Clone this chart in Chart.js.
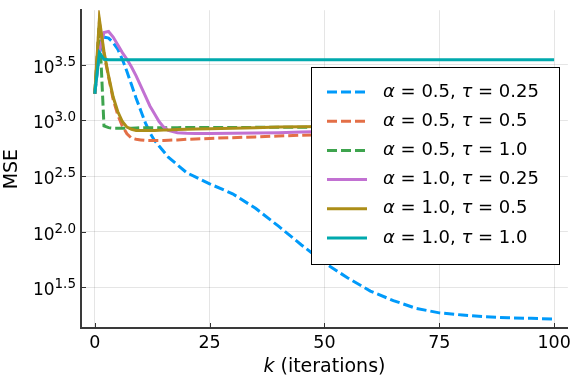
<!DOCTYPE html>
<html>
<head>
<meta charset="utf-8">
<script src="https://cdn.jsdelivr.net/npm/chart.js@4.4.1/dist/chart.umd.min.js"></script>
<style>
  html, body { margin: 0; padding: 0; background: #fff; }
</style>
</head>
<body>
<canvas id="myChart" width="576" height="384"></canvas>
<script>
// iteration index k
const iterations = [0, 1, 2, 3, 4, 5, 6, 7, 8, 9, 10, 11, 12, 13, 14, 15, 16, 18, 20, 22,
  25, 30, 35, 40, 45, 50, 55, 60, 65, 70, 75, 80, 85, 90, 95, 100]

// MSE per run
const mseA05T025 = [1738, 3981, 5623, 5495, 5012, 4365, 3548, 2754, 2089, 1585,
  1230, 955, 776, 661, 589, 525, 468, 398, 339, 309,
  269, 219, 162, 112, 75.9, 52.5, 38.5, 29.2, 24.0, 20.4,
  18.6, 17.8, 17.2, 16.8, 16.6, 16.4]
const mseA05T05 = [1738, 7586, 3981, 2455, 1549, 1122, 891, 759, 692, 676,
  668, 661, 661, 661, 661, 661, 664, 668, 676, 681,
  689, 700, 711, 724, 736, 746, 755, 762, 769, 776,
  782, 787, 791, 794, 798, 802]
const mseA05T1 = [1738, 7244, 891, 861, 851, 851, 851, 851, 851, 855,
  859, 861, 861, 861, 861, 861, 861, 861, 862, 862,
  863, 864, 866, 868, 870, 871, 873, 874, 876, 877,
  878, 879, 880, 881, 881, 881]
const mseA1T025 = [1738, 4169, 6166, 6310, 5623, 4786, 4074, 3548, 3020, 2512,
  2042, 1660, 1349, 1148, 977, 871, 813, 776, 767, 764,
  762, 766, 771, 776, 785, 794, 800, 805, 811, 817,
  820, 824, 828, 832, 834, 836]
const mseA1T05 = [1738, 8128, 4169, 2512, 1622, 1202, 977, 871, 832, 813,
  813, 813, 813, 813, 817, 818, 822, 828, 832, 836,
  841, 851, 861, 871, 877, 883, 887, 891, 893, 895,
  897, 899, 902, 902, 904, 904]
const mseA1T1 = [1738, 4074, 3548, 3508, 3508, 3508, 3508, 3508, 3508, 3508,
  3508, 3508, 3508, 3508, 3508, 3508, 3508, 3508, 3508, 3508,
  3508, 3508, 3508, 3508, 3508, 3508, 3508, 3508, 3508, 3508,
  3508, 3508, 3508, 3508, 3508, 3508]

const alphas = ['0.5', '0.5', '0.5', '1.0', '1.0', '1.0']
const taus = ['0.25', '0.5', '1.0', '0.25', '0.5', '1.0']
const xTicks = [0, 25, 50, 75, 100]
const yTickExponents = ['1.5', '2.0', '2.5', '3.0', '3.5']

const series = [mseA05T025, mseA05T05, mseA05T1, mseA1T025, mseA1T05, mseA1T1]
const colors = ['#009AFA', '#E36F47', '#3EA44E', '#C271D2', '#AC8E18', '#00A9AD']
const FONT = '"DejaVu Sans", sans-serif'

const datasets = series.map((vals, i) => ({
  label: 'α = ' + alphas[i] + ', τ = ' + taus[i],
  data: iterations.map((k, j) => ({ x: k, y: vals[j] })),
  borderColor: colors[i],
  backgroundColor: colors[i],
  borderWidth: 3,
  borderDash: i < 3 ? [10, 4] : [],
  pointRadius: 0,
  tension: 0,
  fill: false,
  order: 6 - i, // later runs on top, like the original
}))

// greek letters in italic, rest upright
function drawMathText(ctx, text, x, y, size) {
  let cx = x
  text.split(/([ατ])/).forEach((part) => {
    if (!part) return
    const greek = part === 'α' || part === 'τ'
    ctx.font = (greek ? 'italic ' : '') + size + 'px ' + FONT
    ctx.fillText(part, cx, y)
    cx += ctx.measureText(part).width
  })
}

const decorations = {
  id: 'decorations',
  afterDraw(chart) {
    const { ctx, chartArea: a } = chart
    const xs = chart.scales.x
    const ys = chart.scales.y
    ctx.save()

    // small inward tick marks
    ctx.strokeStyle = '#333'
    ctx.lineWidth = 1
    ctx.setLineDash([])
    xTicks.forEach((v) => {
      const px = Math.round(xs.getPixelForValue(v)) + 0.5
      ctx.beginPath()
      ctx.moveTo(px, a.bottom)
      ctx.lineTo(px, a.bottom - 5)
      ctx.stroke()
    })
    yTickExponents.forEach((e) => {
      const py = Math.round(ys.getPixelForValue(Math.pow(10, parseFloat(e)))) + 0.5
      ctx.beginPath()
      ctx.moveTo(a.left, py)
      ctx.lineTo(a.left + 5, py)
      ctx.stroke()
    })

    // y tick labels 10^e
    ctx.fillStyle = '#000'
    ctx.textAlign = 'left'
    ctx.textBaseline = 'alphabetic'
    yTickExponents.forEach((e) => {
      const py = ys.getPixelForValue(Math.pow(10, parseFloat(e)))
      ctx.font = '13.5px ' + FONT
      const supW = ctx.measureText(e).width
      ctx.font = '17px ' + FONT
      const baseW = ctx.measureText('10').width
      const right = a.left - 5
      ctx.fillText('10', right - supW - baseW, py + 8)
      ctx.font = '13.5px ' + FONT
      ctx.fillText(e, right - supW, py + 1)
    })

    // axis titles
    ctx.textBaseline = 'middle'
    ctx.textAlign = 'left'
    ctx.font = 'italic 19px ' + FONT
    const kW = ctx.measureText('k').width
    ctx.font = '19px ' + FONT
    const restW = ctx.measureText(' (iterations)').width
    const cx = (a.left + a.right) / 2
    ctx.font = 'italic 19px ' + FONT
    ctx.fillText('k', cx - (kW + restW) / 2, 367)
    ctx.font = '19px ' + FONT
    ctx.fillText(' (iterations)', cx - (kW + restW) / 2 + kW, 367)

    ctx.save()
    ctx.translate(12, (a.top + a.bottom) / 2)
    ctx.rotate(-Math.PI / 2)
    ctx.textAlign = 'center'
    ctx.fillText('MSE', 0, 0)
    ctx.restore()

    // legend box
    const bx = 311.5, by = 67.5, bw = 248, bh = 197
    ctx.fillStyle = '#fff'
    ctx.fillRect(bx, by, bw, bh)
    ctx.strokeStyle = '#000'
    ctx.lineWidth = 1
    ctx.strokeRect(bx, by, bw, bh)
    chart.data.datasets.forEach((ds, i) => {
      const ly = 92 + i * 29.2
      ctx.strokeStyle = ds.borderColor
      ctx.lineWidth = 3
      ctx.setLineDash(ds.borderDash)
      ctx.beginPath()
      ctx.moveTo(327, ly)
      ctx.lineTo(367, ly)
      ctx.stroke()
      ctx.setLineDash([])
      ctx.fillStyle = '#000'
      ctx.textAlign = 'left'
      ctx.textBaseline = 'middle'
      drawMathText(ctx, ds.label, 383, ly, 18)
    })
    ctx.restore()
  },
}

const config = {
  type: 'line',
  data: { datasets: datasets },
  options: {
    responsive: false,
    animation: false,
    devicePixelRatio: 1,
    layout: { padding: { left: 0, right: 7, top: 3, bottom: 0 } },
    plugins: {
      legend: { display: false },
      tooltip: { enabled: false },
    },
    scales: {
      x: {
        type: 'linear',
        min: -3,
        max: 103,
        afterBuildTicks: (scale) => {
          scale.ticks = xTicks.map((v) => ({ value: v }))
        },
        afterFit: (scale) => {
          scale.height = 56
        },
        grid: { color: 'rgba(0,0,0,0.1)', lineWidth: 1, drawTicks: false },
        border: { display: true, color: '#3a3a3a', width: 2 },
        ticks: {
          color: '#000',
          padding: 5,
          maxRotation: 0,
          font: { family: 'DejaVu Sans', size: 17.5 },
        },
      },
      y: {
        type: 'logarithmic',
        min: 13.6,
        max: 9795,
        afterBuildTicks: (scale) => {
          scale.ticks = yTickExponents.map((e) => ({ value: Math.pow(10, parseFloat(e)) }))
        },
        afterFit: (scale) => {
          scale.width = 81
        },
        grid: { color: 'rgba(0,0,0,0.1)', lineWidth: 1, drawTicks: false },
        border: { display: true, color: '#3a3a3a', width: 2 },
        ticks: {
          callback: () => '', // drawn by the plugin with superscripts
        },
      },
    },
  },
  plugins: [decorations],
}

var myChart = new Chart(document.getElementById('myChart'), config)
</script>
</body>
</html>
